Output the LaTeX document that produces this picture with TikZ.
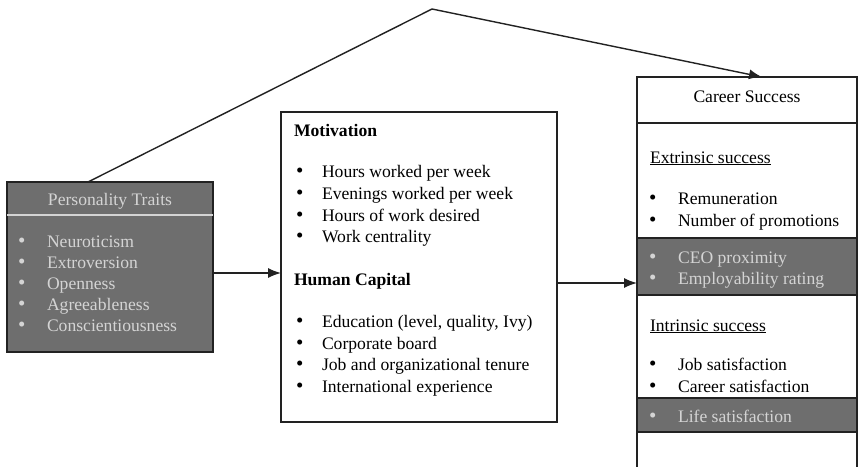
\documentclass[tikz,border=0pt]{standalone}
\usepackage{fontspec}
\setmainfont{Liberation Serif}
\usetikzlibrary{arrows.meta,calc}
\definecolor{boxgray}{HTML}{6E6E6E}
\definecolor{litetext}{HTML}{D4D4D4}
\definecolor{edge}{HTML}{222222}
\newcommand{\fs}{\fontsize{17.6}{21}\selectfont}
\newcommand{\bigbul}{{\fontsize{21}{21}\selectfont\textbullet}}
\begin{document}
\begin{tikzpicture}[x=1pt,y=-1pt,
  panel/.style={draw=edge, line width=1.2pt, inner sep=0pt, outer sep=0pt, anchor=north west},
  shade/.style={panel, fill=boxgray},
  txt/.style={anchor=base west, inner sep=0pt, outer sep=0pt, font=\fs, text=black},
  ltxt/.style={txt, text=litetext},
  ctxt/.style={txt, anchor=base},
  arr/.style={draw=edge, line width=1.4pt, -{Latex[length=13pt,width=10pt]}},
  conn/.style={draw=edge, line width=1.4pt}]
\useasboundingbox (0,0) rectangle (858,466);
\fill[white] (0,0) rectangle (858,466);

% ---- boxes ----
\node[shade, minimum width=206pt, minimum height=170pt] (pers) at (7,182) {};
\draw[litetext, line width=1.6pt] (pers.north west |- 0,215) -- (pers.north east |- 0,215);
\node[panel, fill=white, minimum width=276pt, minimum height=310pt] (mid) at (281,112) {};
\node[panel, fill=white, minimum width=220pt, minimum height=410pt] (car) at (637,77) {};
\draw[edge, line width=1.2pt] (car.north west |- 0,123) -- (car.north east |- 0,123);
\node[shade, minimum width=220pt, minimum height=57pt] (band1) at (637,238) {};
\node[shade, minimum width=220pt, minimum height=34pt] (band2) at (637,398) {};

% ---- personality text ----
\node[ctxt, text=litetext] (ptitle) at (110,205) {Personality Traits};
\foreach \n/\y/\t in {p1/247/Neuroticism, p2/268/Extroversion, p3/289/Openness, p4/310/Agreeableness, p5/331/Conscientiousness}{
  \node[ltxt] (\n b) at (18,\y) {\bigbul};
  \node[ltxt] (\n) at (47,\y) {\t};
}

% ---- middle text ----
\node[txt] (motiv) at (294,136) {\bfseries Motivation};
\foreach \n/\y/\t in {m1/177/Hours worked per week, m2/199/Evenings worked per week, m3/221/Hours of work desired, m4/242/Work centrality,
                      h1/327/{Education (level, quality, Ivy)}, h2/349/Corporate board, h3/370/Job and organizational tenure, h4/392/International experience}{
  \node[txt] (\n b) at (296,\y) {\bigbul};
  \node[txt] (\n) at (322,\y) {\t};
}
\node[txt] (hcap) at (294,285) {\bfseries Human Capital};

% ---- career text ----
\node[ctxt] (ctitle) at (747,102) {Career Success};
\node[txt] (extr) at (650,163) {\underline{Extrinsic success}};
\node[txt] (intr) at (650,331) {\underline{Intrinsic success}};
\foreach \n/\y/\t in {e1/204/Remuneration, e2/226/Number of promotions, i1/370/Job satisfaction, i2/392/Career satisfaction}{
  \node[txt] (\n b) at (649,\y) {\bigbul};
  \node[txt] (\n) at (678,\y) {\t};
}
\foreach \n/\y/\t in {e3/263/CEO proximity, e4/284/Employability rating, i3/422/Life satisfaction}{
  \node[ltxt] (\n b) at (649,\y) {\bigbul};
  \node[ltxt] (\n) at (678,\y) {\t};
}

% ---- connectors ----
\coordinate (apex) at (432,9);
\draw[conn] ([xshift=-22pt]pers.north) -- (apex);
\draw[arr] (apex) -- ([xshift=15pt]car.north);
\draw[arr] ([yshift=-6pt]pers.east) -- ([yshift=-6pt]pers.east -| mid.west);
\draw[arr] ([yshift=-16pt]mid.east) -- ([yshift=-16pt]mid.east -| car.west);
\end{tikzpicture}
\end{document}
